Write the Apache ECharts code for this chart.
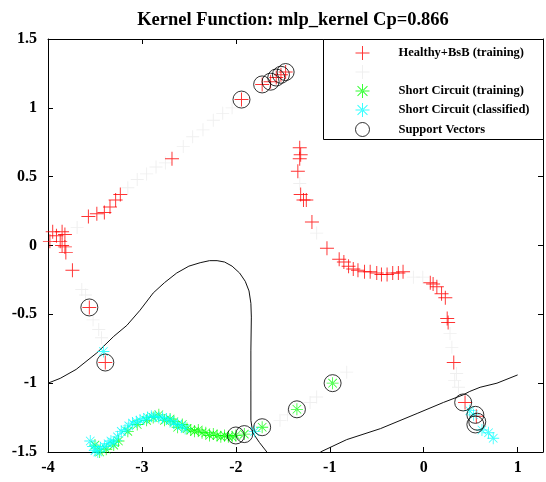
<!DOCTYPE html>
<html><head><meta charset="utf-8">
<script src="https://cdn.jsdelivr.net/npm/echarts@6/dist/echarts.min.js"></script>
<style>html,body{margin:0;padding:0;background:#fff}#c{width:546px;height:482px}</style>
</head><body><div id="c"></div>
<script>
const titleText = 'Kernel Function: mlp_kernel Cp=0.866';
const legendNames = ['Healthy+BsB (training)', ' ', 'Short Circuit (training)', 'Short Circuit (classified)', 'Support Vectors'];
const xTickLabels = ['-4', '-3', '-2', '-1', '0', '1'];
const yTickLabels = ['-1.5', '-1', '-0.5', '0', '0.5', '1', '1.5'];

const healthyTraining = [
  [-3.98,0.03],[-3.95,0.10],[-3.91,0.07],[-3.85,0.10],[-3.82,0.08],[-3.87,0.03],[-3.85,0.00],
  [-3.82,-0.01],[-3.81,-0.05],[-3.74,-0.18],
  [-3.57,0.21],[-3.48,0.23],[-3.40,0.24],[-3.34,0.28],[-3.28,0.33],[-3.23,0.37],
  [-2.68,0.63],
  [-1.94,1.06],[-1.72,1.17],[-1.63,1.19],[-1.57,1.22],[-1.52,1.24],[-1.47,1.26],
  [-1.32,0.71],[-1.31,0.66],[-1.32,0.63],[-1.34,0.54],[-1.31,0.37],[-1.28,0.33],[-1.25,0.33],
  [-1.19,0.17],[-1.03,-0.02],[-0.90,-0.10],[-0.85,-0.12],[-0.80,-0.15],[-0.75,-0.17],
  [-0.70,-0.18],[-0.63,-0.19],[-0.57,-0.19],[-0.50,-0.20],[-0.45,-0.21],[-0.39,-0.21],
  [-0.33,-0.20],[-0.27,-0.20],[-0.22,-0.19],
  [0.07,-0.27],[0.10,-0.28],[0.14,-0.30],[0.19,-0.35],[0.23,-0.38],[0.25,-0.53],[0.26,-0.56],
  [0.32,-0.85],
  [0.44,-1.14],[0.56,-1.24],
  [-3.56,-0.45],[-3.39,-0.85]
];
const healthyClassified = [
  [-3.69,0.13],[-3.64,-0.32],[-3.60,-0.36],[-3.52,-0.54],[-3.46,-0.61],[-3.43,-0.67],
  [-3.15,0.42],[-3.05,0.48],[-2.95,0.52],[-2.85,0.57],[-2.75,0.60],
  [-2.56,0.72],[-2.46,0.79],[-2.35,0.84],[-2.24,0.91],[-2.14,0.96],[-2.04,1.00],
  [-1.32,0.45],[-1.14,0.09],[-0.11,-0.23],[-0.01,-0.23],
  [-1.53,-1.27],[-1.45,-1.23],[-1.21,-1.14],[-1.14,-1.10],[-0.82,-0.92],
  [0.28,-0.64],[0.30,-0.74],[0.33,-0.98],[0.37,-1.03],[0.35,-0.93]
];
const shortTraining = [
  [-3.50,-1.45],[-3.45,-1.50],[-3.38,-1.48],[-3.30,-1.45],[-3.25,-1.42],[-3.15,-1.35],
  [-3.05,-1.30],[-2.95,-1.27],[-2.88,-1.25],[-2.82,-1.23],[-2.76,-1.27],[-2.70,-1.26],
  [-2.66,-1.28],[-2.62,-1.32],[-2.57,-1.30],[-2.52,-1.33],[-2.48,-1.34],[-2.44,-1.35],
  [-2.40,-1.34],[-2.36,-1.36],[-2.32,-1.36],[-2.28,-1.38],[-2.24,-1.37],[-2.20,-1.38],
  [-2.16,-1.39],[-2.12,-1.38],[-2.08,-1.39],[-2.04,-1.39],
  [-2.00,-1.38],[-1.91,-1.37],[-1.72,-1.32],[-1.35,-1.19],[-0.97,-1.00]
];
const shortClassified = [
  [-3.55,-1.42],[-3.52,-1.46],[-3.50,-1.49],[-3.47,-1.50],[-3.44,-1.47],[-3.40,-1.46],
  [-3.36,-1.44],[-3.33,-1.42],[-3.30,-1.43],[-3.26,-1.39],[-3.22,-1.35],[-3.18,-1.34],
  [-3.14,-1.31],[-3.10,-1.29],[-3.06,-1.28],[-3.02,-1.27],[-2.98,-1.26],[-2.94,-1.25],
  [-2.90,-1.24],[-2.86,-1.24],[-2.82,-1.25],[-2.78,-1.25],[-2.74,-1.26],[-2.70,-1.27],
  [-2.66,-1.29],[-2.62,-1.30],[-2.58,-1.31],[-2.54,-1.33],
  [-3.41,-0.77],[-1.80,-1.35],[0.49,-1.20],[0.53,-1.23],[0.62,-1.34],[0.69,-1.36],[0.74,-1.40]
];
const supportVectors = [
  [-3.56,-0.45],[-3.39,-0.85],[-1.94,1.06],[-1.72,1.17],[-1.63,1.19],[-1.57,1.22],[-1.52,1.24],
  [-1.47,1.26],[-2.00,-1.38],[-1.91,-1.37],[-1.72,-1.32],[-1.35,-1.19],[-0.97,-1.00],
  [0.42,-1.14],[0.55,-1.23],[0.57,-1.28],[0.55,-1.30]
];
const boundaryA = [
  [-4.0,-1.0],[-3.87,-0.965],[-3.7,-0.9],[-3.48,-0.78],[-3.3,-0.66],[-3.16,-0.58],[-3.02,-0.47],
  [-2.88,-0.345],[-2.76,-0.27],[-2.63,-0.2],[-2.5,-0.15],[-2.38,-0.125],[-2.28,-0.11],[-2.2,-0.11],
  [-2.12,-0.12],[-2.04,-0.15],[-1.96,-0.2],[-1.9,-0.26],[-1.86,-0.33],[-1.84,-0.42],[-1.835,-0.52],
  [-1.84,-0.76],[-1.84,-1.05],[-1.84,-1.27],[-1.82,-1.36],[-1.75,-1.43],[-1.67,-1.5]
];
const boundaryB = [
  [-1.1,-1.5],[-0.82,-1.41],[-0.46,-1.33],[-0.07,-1.22],[0.21,-1.14],[0.42,-1.085],[0.49,-1.06],
  [0.6,-1.03],[0.78,-1.0],[1.0,-0.94]
];

const PLUS = 'path://M-1,-0.07L1,-0.07L1,0.07L-1,0.07Z M-0.07,-1L0.07,-1L0.07,1L-0.07,1Z';
const STAR = 'path://M-1,-0.07L1,-0.07L1,0.07L-1,0.07Z M-0.07,-1L0.07,-1L0.07,1L-0.07,1Z ' +
  'M-0.66,-0.757L0.757,0.66L0.66,0.757L-0.757,-0.66Z M-0.66,0.757L0.757,-0.66L0.66,-0.757L-0.757,0.66Z';

const FONT = 'Liberation Serif';
const chart = echarts.init(document.getElementById('c'), null, {renderer: 'canvas'});
const xFmt = v => (Math.abs(v - Math.round(v)) < 1e-9 && xTickLabels.includes(String(Math.round(v)))) ? String(Math.round(v)) : '';
const yFmt = v => { const s = String(Math.round(v * 10) / 10); return yTickLabels.includes(s) ? s : ''; };
const axisCommon = {
  axisLine: {show: true, onZero: false, lineStyle: {color: '#000', width: 1}},
  axisTick: {show: true, inside: true, length: 5, lineStyle: {color: '#000'}},
  splitLine: {show: false}
};
chart.setOption({
  animation: false,
  backgroundColor: '#fff',
  title: {text: titleText, left: 288, textAlign: 'center', top: 6,
    textStyle: {fontFamily: FONT, fontWeight: 'bold', fontSize: 18.5, color: '#000'}},
  grid: {left: 48, right: 3, top: 39, bottom: 30},
  xAxis: [
    Object.assign({type: 'value', min: -4, max: 1.27, interval: 1, position: 'bottom',
      axisLabel: {formatter: xFmt, showMaxLabel: false, margin: 8, fontFamily: FONT, fontWeight: 'bold', fontSize: 16, color: '#000'}}, axisCommon),
    Object.assign({type: 'value', min: -4, max: 1.27, interval: 1, position: 'top',
      axisLabel: {show: false}}, axisCommon)
  ],
  yAxis: [
    Object.assign({type: 'value', min: -1.5, max: 1.5, interval: 0.5, position: 'left',
      axisLabel: {formatter: yFmt, margin: 11, fontFamily: FONT, fontWeight: 'bold', fontSize: 16, color: '#000'}}, axisCommon),
    Object.assign({type: 'value', min: -1.5, max: 1.5, interval: 0.5, position: 'right',
      axisLabel: {show: false}}, axisCommon)
  ],
  graphic: [{type: 'rect', left: 323, top: 39, shape: {width: 220, height: 100}, z: 9,
    style: {fill: '#fff', stroke: '#000', lineWidth: 1}}],
  legend: {
    z: 10, left: 355, top: 46, orient: 'vertical', itemWidth: 14, itemHeight: 14, itemGap: 5, padding: 0,
    textStyle: {fontFamily: FONT, fontWeight: 'bold', fontSize: 12.5, color: '#000', padding: [0, 0, 0, 24]},
    data: [
      {name: legendNames[0], icon: PLUS},
      {name: legendNames[1], icon: PLUS},
      {name: legendNames[2], icon: STAR},
      {name: legendNames[3], icon: STAR},
      {name: legendNames[4], icon: 'circle', itemStyle: {color: 'rgba(0,0,0,0)', borderColor: '#000', borderWidth: 1}}
    ]
  },
  series: [
    {name: legendNames[1], type: 'scatter', symbol: PLUS, symbolSize: 13, data: healthyClassified,
      itemStyle: {color: '#ebebeb'}, z: 2},
    {name: 'bA', type: 'line', data: boundaryA, showSymbol: false, symbol: 'none', lineStyle: {color: '#111', width: 1}, z: 3},
    {name: 'bB', type: 'line', data: boundaryB, showSymbol: false, symbol: 'none', lineStyle: {color: '#111', width: 1}, z: 3},
    {name: legendNames[0], type: 'scatter', symbol: PLUS, symbolSize: 14, data: healthyTraining,
      itemStyle: {color: '#ff0000'}, z: 4},
    {name: legendNames[2], type: 'scatter', symbol: STAR, symbolSize: 12, data: shortTraining,
      itemStyle: {color: '#00ff00'}, z: 4},
    {name: legendNames[3], type: 'scatter', symbol: STAR, symbolSize: 12, data: shortClassified,
      itemStyle: {color: '#00ffff'}, z: 5},
    {name: legendNames[4], type: 'scatter', symbol: 'circle', symbolSize: 17, data: supportVectors,
      itemStyle: {color: 'rgba(0,0,0,0)', borderColor: '#000', borderWidth: 1}, z: 6}
  ]
});
</script></body></html>
